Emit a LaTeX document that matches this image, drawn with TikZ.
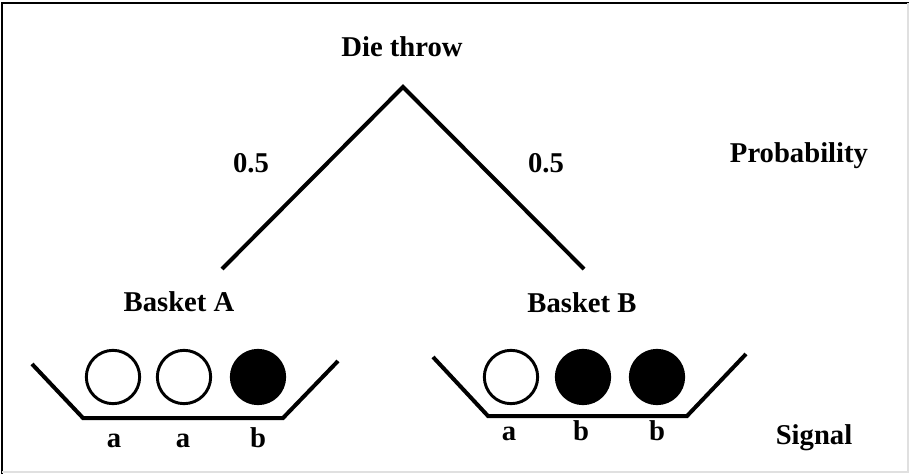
\documentclass[tikz,border=0pt]{standalone}
\usepackage{fontspec}
\setmainfont{Liberation Serif}

\begin{document}
\begin{tikzpicture}[x=0.75pt,y=-0.75pt,
  txt/.style={font=\fontsize{21.5}{24}\selectfont\bfseries,anchor=base,inner sep=0pt},
  ball/.style={circle,draw,line width=2.2pt,minimum size=40pt,inner sep=0pt},
  full/.style={ball,fill=black},
  empty/.style={ball,fill=white},
  thick line/.style={line width=3pt}]
\useasboundingbox (0,0) rectangle (909,474);
% frame
\draw[line width=2.2pt] (2,474) -- (2,3) -- (909,3);
\draw[line width=1.5pt,black!12] (908,3) -- (908,472) -- (2,472);

% Die throw tree
\node[txt] (die) at (402,57) {Die throw};
\coordinate (top) at (403,87);
\coordinate (leafA) at (222,269);
\coordinate (leafB) at (584,269);
\draw[thick line,line join=miter] (leafA) -- (top) -- (leafB);

\node[txt] (pa) at (251,172) {0.5};
\node[txt] (pb) at (546,172) {0.5};
\node[txt] (prob) at (799,162) {Probability};

\node[txt] (basketA) at (179,311) {Basket A};
\node[txt] (basketB) at (582,312) {Basket B};

% Basket A
\coordinate (a1) at (32,364);
\coordinate (a2) at (83,418);
\coordinate (a3) at (283,418);
\coordinate (a4) at (338,361);
\draw[thick line] (a1) -- (a2) -- (a3) -- (a4);
\node[empty] (ba1) at (113,377) {};
\node[empty] (ba2) at (184,377) {};
\node[full] (ba3) at (258,377) {};
\node[txt] (sa1) at (114,447) {a};
\node[txt] (sa2) at (183,447) {a};
\node[txt] (sa3) at (258,447) {b};

% Basket B
\coordinate (b1) at (433,357);
\coordinate (b2) at (488,416);
\coordinate (b3) at (687,416);
\coordinate (b4) at (746,354);
\draw[thick line] (b1) -- (b2) -- (b3) -- (b4);
\node[empty] (bb1) at (511,377) {};
\node[full] (bb2) at (583,377) {};
\node[full] (bb3) at (657,377) {};
\node[txt] (sb1) at (509,440) {a};
\node[txt] (sb2) at (581,440) {b};
\node[txt] (sb3) at (657,440) {b};

\node[txt] (signal) at (814,444) {Signal};
\end{tikzpicture}
\end{document}
